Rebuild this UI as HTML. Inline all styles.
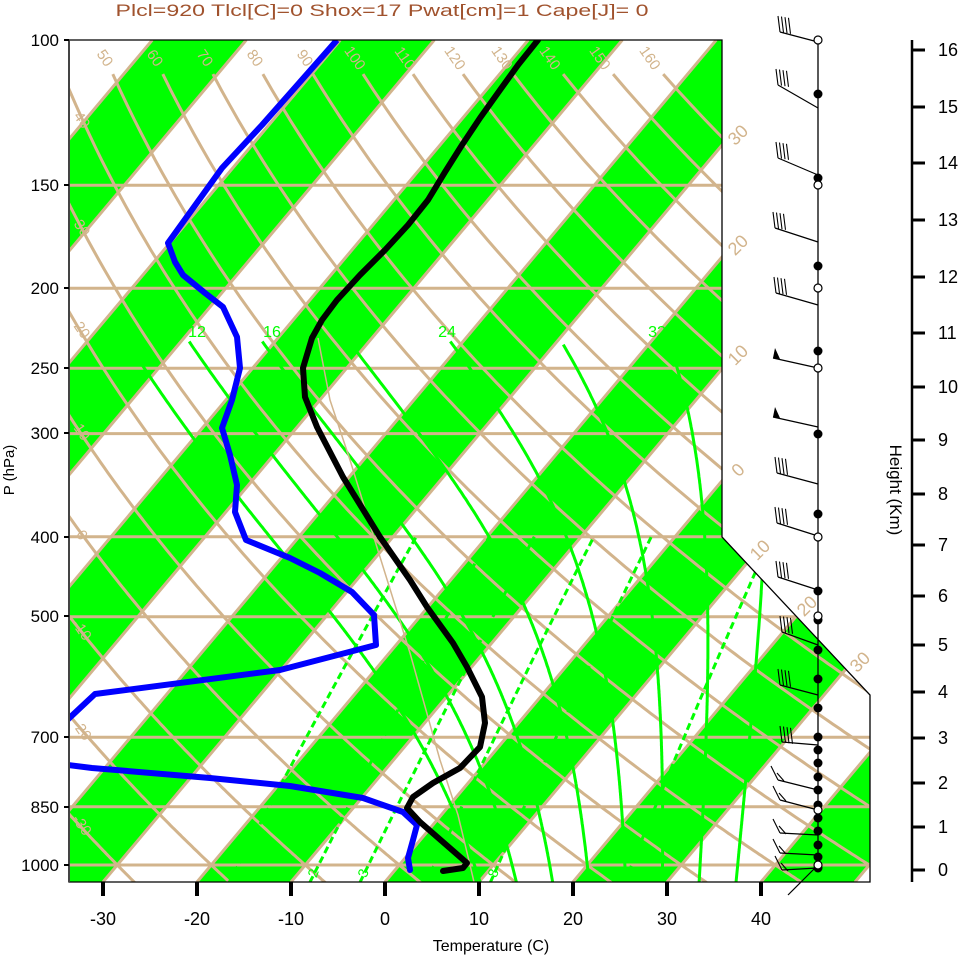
<!DOCTYPE html>
<html><head><meta charset="utf-8"><style>
html,body{margin:0;padding:0;background:#fff;}
svg{display:block;font-family:"Liberation Sans",sans-serif;}
</style></head><body>
<svg id="s" width="961" height="957" viewBox="0 0 961 957" xmlns="http://www.w3.org/2000/svg">
<defs><clipPath id="cp"><polygon points="69,40 722,40 722,537 870,695 870,882 69,882"/></clipPath></defs>
<rect width="961" height="957" fill="#fff"/>
<g id="plot" clip-path="url(#cp)"></g>
<g id="over"></g>
</svg>
<script>
var NS="http://www.w3.org/2000/svg";
var plot=document.getElementById('plot'),over=document.getElementById('over');
function el(par,tag,attrs,txt){var e=document.createElementNS(NS,tag);for(var k in attrs)e.setAttribute(k,attrs[k]);if(txt!==undefined)e.textContent=txt;par.appendChild(e);return e;}
var K=0.84;
function Y(p){return 40+825*Math.log10(p/100);}
function X(T,y){return 385+9.4*T+K*(882-y);}
function XP(T,p){return X(T,Y(p));}
function pl(par,pts,st){el(par,'polyline',Object.assign({points:pts.map(function(q){return q[0].toFixed(1)+','+q[1].toFixed(1)}).join(' '),fill:'none'},st));}
var TAN='#D2B48C',GR='#00FF00';
for(var T=-220;T<=80;T+=20){
  var pts=[[X(T,882),882],[X(T+10,882),882],[X(T+10,40),40],[X(T,40),40]];
  el(plot,'polygon',{points:pts.map(function(q){return q.join(',')}).join(' '),fill:GR});
}
[150,200,250,300,400,500,700,850,1000].forEach(function(p){var y=Y(p);pl(plot,[[69,y],[870,y]],{stroke:TAN,'stroke-width':3});});
for(var T=-200;T<=60;T+=10){pl(plot,[[X(T,882),882],[X(T,40),40]],{stroke:TAN,'stroke-width':3});}
for(var th=-40;th<=160;th+=10){var pts=[];for(var p=1050;p>=110;p-=5){var t=(th+273.15)*Math.pow(p/1000,0.2857)-273.15;pts.push([XP(t,p),Y(p)]);}pl(plot,pts,{stroke:TAN,'stroke-width':3});}
function tdw(w,p){var e=w*p/(622+w);var l=Math.log(e/6.112);return 243.5*l/(17.67-l);}
[1,2,3,5,8,20].forEach(function(w){var pts=[];for(var p=1050;p>=400;p-=10){pts.push([XP(tdw(w,p),p),Y(p)]);}pl(plot,pts,{stroke:GR,'stroke-width':3,'stroke-dasharray':'7,4'});});
function es(tc){return 6.112*Math.exp(17.67*tc/(tc+243.5));}
function dTdp(Tk,p){var tc=Tk-273.15;var e=es(tc);var rs=0.622*e/(p-e);var Lv=2.5e6,Rd=287,cp=1005;return (Rd*Tk+Lv*rs)/(p*(cp+Lv*Lv*rs*0.622/(Rd*Tk*Tk)));}
[[8,248],[12,232],[16,232],[20,236],[24,232],[28,234],[32,236],[36,270]].forEach(function(a){
  var Tk=a[0]+273.15,p=1000,pts=[];var dp=-2;
  var Td=Tk,pd=1000;while(pd<1050){Td+=dTdp(Td,pd)*2;pd+=2;}
  pts.push([XP(Td-273.15,1050),Y(1050)]);
  while(p>=a[1]){pts.push([XP(Tk-273.15,p),Y(p)]);Tk+=dTdp(Tk,p)*dp;p+=dp;}
  pl(plot,pts,{stroke:GR,'stroke-width':3});
});
pl(plot,[[318,338],[330,400],[350,460],[380,557],[410,653],[440,760],[458,815],[470,865],[474,882]],{stroke:TAN,'stroke-width':1.5});
pl(plot,[[337,40],[300,82],[262,125],[222,168],[168,243],[175,262],[183,275],[205,293],[223,307],[237,337],[240,368],[232,400],[222,428],[230,455],[237,485],[235,512],[246,540],[290,558],[320,573],[352,592],[374,615],[376,645],[280,670],[95,694],[62,725]],{stroke:'#0000FF','stroke-width':6,'stroke-linejoin':'round'});
pl(plot,[[60,764],[92,768],[210,778],[290,786],[363,798],[403,812],[417,825],[413,840],[408,858],[410,870]],{stroke:'#0000FF','stroke-width':6,'stroke-linejoin':'round','stroke-linecap':'round'});
pl(plot,[[538,40],[518,65],[500,90],[480,118],[462,145],[445,172],[428,200],[408,225],[385,250],[360,275],[337,300],[322,320],[312,338],[303,368],[305,397],[317,427],[343,477],[380,537],[410,580],[427,607],[453,643],[467,667],[482,697],[485,723],[480,747],[460,768],[433,783],[413,797],[407,808],[420,822],[467,863],[463,868],[443,871]],{stroke:'#000','stroke-width':6,'stroke-linejoin':'round','stroke-linecap':'round'});
pl(over,[[69,40],[722,40],[722,537],[870,695],[870,882],[69,882],[69,40]],{stroke:'#000','stroke-width':1.3});
pl(over,[[69,40],[69,882]],{stroke:'#444','stroke-width':2});
[-30,-20,-10,0,10,20,30,40].forEach(function(t){var x=385+9.4*t;pl(over,[[x,882],[x,896]],{stroke:'#000','stroke-width':4});el(over,'text',{x:x,y:925,'font-size':18,'text-anchor':'middle'},String(t));});
el(over,'text',{x:491,y:951,'font-size':16,'text-anchor':'middle'},'Temperature (C)');
[[100,40],[150,185],[200,288],[250,368],[300,433],[400,537],[500,616],[700,737],[850,807],[1000,865]].forEach(function(a){pl(over,[[64,a[1]],[69,a[1]]],{stroke:'#000','stroke-width':2});el(over,'text',{x:59,y:a[1]+6,'font-size':17,'text-anchor':'end'},String(a[0]));});
el(over,'text',{x:14,y:470,'font-size':15,'text-anchor':'middle',transform:'rotate(-90 14 470)'},'P (hPa)');
el(over,'text',{x:382,y:16,'font-size':17,'text-anchor':'middle',fill:'#A0522D',textLength:533,lengthAdjust:'spacingAndGlyphs'},'Plcl=920 Tlcl[C]=0 Shox=17 Pwat[cm]=1 Cape[J]= 0');
var tops=[[50,105],[60,155],[70,205],[80,255],[90,305],[100,355],[110,405],[120,455],[130,502],[140,550],[150,600],[160,650]];
tops.forEach(function(a){el(over,'text',{x:a[1],y:63,'font-size':15,fill:TAN,'text-anchor':'middle',transform:'rotate(55 '+a[1]+' 58)'},String(a[0]));});
[[40,120],[30,228],[20,330],[10,432],[0,535],[-10,630],[-20,730],[-30,825]].forEach(function(a){el(over,'text',{x:82,y:a[1]+5,'font-size':15,fill:TAN,'text-anchor':'middle',transform:'rotate(55 82 '+a[1]+')'},String(a[0]));});
[[30,135],[20,245],[10,355],[0,470]].forEach(function(a){el(over,'text',{x:738,y:a[1]+6,'font-size':18,fill:TAN,'text-anchor':'middle',transform:'rotate(-45 738 '+a[1]+')'},String(a[0]));});
[[10,760,550],[20,807,606],[30,860,662]].forEach(function(a){el(over,'text',{x:a[1],y:a[2]+6,'font-size':18,fill:TAN,'text-anchor':'middle',transform:'rotate(-45 '+a[1]+' '+a[2]+')'},String(a[0]));});
[[12,197],[16,272],[24,447],[32,657]].forEach(function(a){el(over,'text',{x:a[1],y:337,'font-size':16,fill:GR,'text-anchor':'middle'},String(a[0]));});
[[2,313],[3,363],[8,493]].forEach(function(a){el(over,'text',{x:a[1],y:878,'font-size':14,fill:GR,'text-anchor':'middle',transform:'rotate(-70 '+a[1]+' 873)'},String(a[0]));});
pl(over,[[818,40],[818,870]],{stroke:'#000','stroke-width':1.3});
var barbs=[[42,780,32,0],[108,778,85,0],[175,778,158,0],[242,775,228,0],[305,776,293,0],[368,773,358,1],[427,773,417,1],[484,777,473,0],[536,777,523,0],[590,778,577,0],[645,782,632,0],[695,780,685,0],[745,782,742,0],[790,778,780,2],[810,780,800,2],[835,780,833,2],[855,780,853,2],[868,782,870,2]];
barbs.forEach(function(b){pl(over,[[818,b[0]],[b[1],b[2]]],{stroke:'#000','stroke-width':1.2});
  if(b[3]==1){el(over,'polygon',{points:b[1]+','+b[2]+' '+(b[1]+7)+','+(b[2]+1)+' '+(b[1]+2)+','+(b[2]-10),fill:'#000'});}
  else if(b[3]==0){for(var i=0;i<4;i++){var x0=b[1]+i*3.5,y0=b[2]+i*0.6;pl(over,[[x0,y0],[x0-2,y0-16]],{stroke:'#000','stroke-width':1.1});}}
  else{for(var i=0;i<2;i++){var x0=b[1]+i*6,y0=b[2]+i*1;pl(over,[[x0,y0],[x0-7,y0-14+i*6]],{stroke:'#000','stroke-width':1.1});}}
});
pl(over,[[815,868],[788,895]],{stroke:'#000','stroke-width':1.2});
[94,178,266,351,434,514,591,620,650,679,708,737,750,763,777,790,805,818,831,845,857,868].forEach(function(y){el(over,'circle',{cx:818,cy:y,r:4.5,fill:'#000'});});
[40,185,288,368,537,616,810,865].forEach(function(y){el(over,'circle',{cx:818,cy:y,r:4,fill:'#fff',stroke:'#000','stroke-width':1.2});});
pl(over,[[912,40],[912,882]],{stroke:'#000','stroke-width':2.5});
[[16,50],[15,107],[14,163],[13,220],[12,277],[11,333],[10,387],[9,440],[8,494],[7,545],[6,596],[5,645],[4,692],[3,738],[2,783],[1,827],[0,870]].forEach(function(a){pl(over,[[912,a[1]],[925,a[1]]],{stroke:'#000','stroke-width':3});el(over,'text',{x:938,y:a[1]+6,'font-size':18},String(a[0]));});
el(over,'text',{x:890,y:490,'font-size':17,'text-anchor':'middle',transform:'rotate(90 890 490)'},'Height (Km)');
</script>
</body></html>
